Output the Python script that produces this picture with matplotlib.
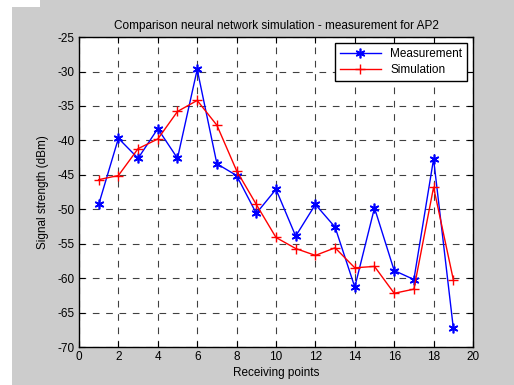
import matplotlib.pyplot as plt
from matplotlib.patches import Rectangle

plt.rcParams['font.family'] = ['Liberation Sans', 'DejaVu Sans']
plt.rcParams['axes.unicode_minus'] = False

# receiving points and signal strength (dBm)
points = list(range(1, 20))
measurement = [-49.3, -39.7, -42.6, -38.3, -42.6, -29.7, -43.4, -45.1, -50.6, -47.1,
               -53.9, -49.3, -52.6, -61.3, -49.8, -58.9, -60.2, -42.7, -67.2]
simulation = [-45.7, -45.1, -41.2, -39.8, -35.8, -34.2, -37.8, -44.4, -49.3, -54.1,
              -55.7, -56.7, -55.6, -58.5, -58.3, -62.2, -61.6, -46.8, -60.2]

fig = plt.figure(figsize=(5.14, 3.85), dpi=100, facecolor='#cccccc')
# white margin at the left / top-left of the screenshot
fig.patches.append(Rectangle((0, 0), 12 / 514, 1, transform=fig.transFigure,
                             facecolor='white', edgecolor='none'))
fig.patches.append(Rectangle((0, 1 - 7 / 385), 40 / 514, 7 / 385, transform=fig.transFigure,
                             facecolor='white', edgecolor='none'))

ax = fig.add_axes([0.1537, 0.0987, 0.7665, 0.805])

ax.plot(points, measurement, color='blue', marker=(6, 2, 0), markersize=7,
        markeredgewidth=1.2, linewidth=1, label='Measurement')
ax.plot(points, simulation, color='red', marker='+', markersize=7,
        markeredgewidth=1, linewidth=1, label='Simulation')

ax.set_xlim(0, 20)
ax.set_ylim(-70, -25)
ax.set_xticks(range(0, 21, 2))
ax.set_yticks(range(-70, -24, 5))
ax.grid(True, color='black', linestyle=(0, (6, 6)), linewidth=0.8, alpha=0.75)
ax.tick_params(direction='in', top=True, right=True, labelsize=8.5, length=4, pad=3)
for s in ax.spines.values():
    s.set_linewidth(1)

ax.set_title('Comparison neural network simulation - measurement for AP2', fontsize=8.5, pad=6)
ax.set_xlabel('Receiving points', fontsize=8.5, labelpad=3)
ax.set_ylabel('Signal strength (dBm)', fontsize=8.5, labelpad=6)

leg = ax.legend(loc='upper right', fontsize=8.5, fancybox=False, edgecolor='black',
                framealpha=1, borderaxespad=0.5, handlelength=3.5, labelspacing=0.4)
leg.get_frame().set_linewidth(1)

fig.savefig('out.png', dpi=100, facecolor=fig.get_facecolor())
